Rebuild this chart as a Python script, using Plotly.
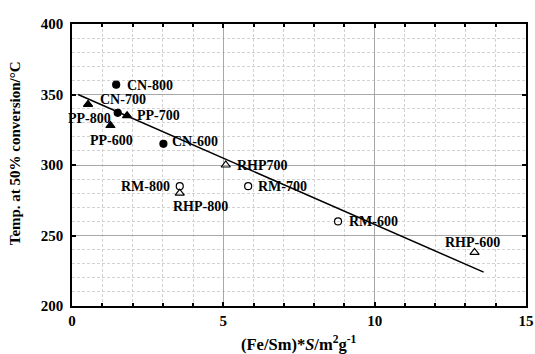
import plotly.graph_objects as go

# ---- data ----
cn_names = ["CN-800", "CN-700", "CN-600"]
cn_x = [1.46, 1.51, 3.02]
cn_y = [357, 337, 315]

pp_names = ["PP-800", "PP-700", "PP-600"]
pp_x = [0.53, 1.82, 1.27]
pp_y = [343, 335, 328]

rm_names = ["RM-800", "RM-700", "RM-600"]
rm_x = [3.56, 5.82, 8.79]
rm_y = [285, 285, 260]

rhp_names = ["RHP-800", "RHP700", "RHP-600"]
rhp_x = [3.56, 5.08, 13.3]
rhp_y = [280, 300, 238]

trend_x = [0.2, 13.6]
trend_y = [350, 224]

x_ticks = [0, 5, 10, 15]
y_ticks = [200, 250, 300, 350, 400]

# ---- label placement (pixel offsets, anchor) ----
label_style = {
    "CN-800": ("left", 9, -1),
    "CN-700": ("center", 5, 13),
    "CN-600": ("left", 7, 2),
    "PP-800": ("center", 1, -14),
    "PP-700": ("left", 8, 0),
    "PP-600": ("center", 1, -15),
    "RM-800": ("right", -8, 0),
    "RM-700": ("left", 8, 0),
    "RM-600": ("left", 9, 0),
    "RHP-800": ("center", 21, -13),
    "RHP700": ("left", 9, 0),
    "RHP-600": ("center", -2, 10),
}

FONT = "Liberation Serif"
fig = go.Figure()

fig.add_trace(go.Scatter(x=trend_x, y=trend_y, mode="lines",
                         line=dict(color="black", width=1.5), hoverinfo="skip"))

series = [
    (cn_names, cn_x, cn_y, "circle", 7),
    (pp_names, pp_x, pp_y, "triangle-up", 8),
    (rm_names, rm_x, rm_y, "circle-open", 7),
    (rhp_names, rhp_x, rhp_y, "triangle-up-open", 8),
]
annotations = []
for names, xs, ys, sym, sz in series:
    fig.add_trace(go.Scatter(x=xs, y=ys, mode="markers",
                             marker=dict(symbol=sym, size=sz, color="black",
                                         line=dict(color="black", width=1.2))))
    for n, xv, yv in zip(names, xs, ys):
        anc, dx, dy = label_style[n]
        annotations.append(dict(x=xv, y=yv, xref="x", yref="y", text=n,
                                showarrow=False, xanchor=anc, yanchor="middle",
                                xshift=dx, yshift=dy,
                                font=dict(family=FONT, size=14, color="black", weight="bold")))

annotations.append(dict(x=-0.125, y=0.5 + 12/282, xref="paper", yref="paper",
                        text="Temp. at 50% conversion/°C", showarrow=False,
                        textangle=-90, xanchor="center", yanchor="middle",
                        font=dict(family=FONT, size=15, color="black", weight="bold")))
annotations.append(dict(x=0.5, y=-37/282, xref="paper", yref="paper",
                        text="(Fe/Sm)*<i>S</i>/m<sup>2</sup>g<sup>-1</sup>", showarrow=False,
                        xanchor="center", yanchor="middle",
                        font=dict(family=FONT, size=16.5, color="black", weight="bold")))

axis_common = dict(showline=True, linecolor="black", linewidth=1.5, mirror="allticks",
                   ticks="inside", ticklen=4, tickcolor="black", tickwidth=1.5,
                   showgrid=True, gridcolor="#a8a8a8", gridwidth=1, zeroline=False,
                   automargin=False,
                   tickfont=dict(family=FONT, size=15, color="black", weight="bold"))

fig.update_layout(
    width=535, height=354,
    margin=dict(l=72, r=9, t=24, b=48),
    paper_bgcolor="white", plot_bgcolor="white",
    showlegend=False,
    annotations=annotations,
    xaxis=dict(range=[0, 15], tickvals=x_ticks, ticktext=[str(v) for v in x_ticks],
               minor=dict(dtick=1, tick0=0, showgrid=True, gridcolor="#d2d2d2",
                          griddash="3px,2px", gridwidth=1, ticks="inside", ticklen=3,
                          tickcolor="black"),
               **axis_common),
    yaxis=dict(range=[200, 400], tickvals=y_ticks, ticktext=[str(v) for v in y_ticks],
               minor=dict(dtick=10, tick0=200, showgrid=True, gridcolor="#d2d2d2",
                          griddash="3px,2px", gridwidth=1, ticks=""),
               ticklabelstandoff=4,
               **axis_common),
)

fig.write_html("out.html")
